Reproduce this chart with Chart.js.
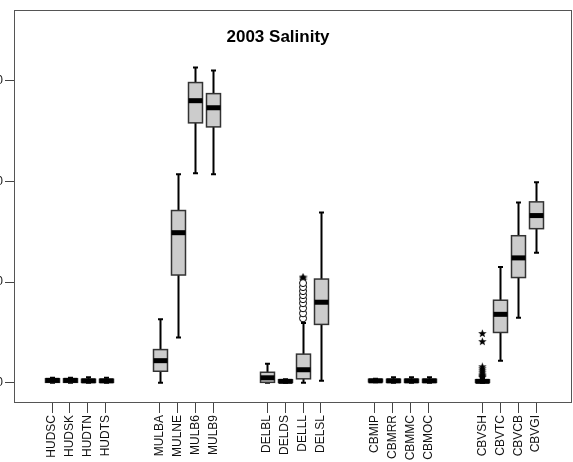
<!DOCTYPE html>
<html lang="en">

<head>
    <meta charset="UTF-8">
    <title>2003 Salinity</title>
    <script src="https://cdn.jsdelivr.net/npm/chart.js"></script>
    <style>
        body,
        html {
            margin: 0;
            padding: 0;
            background-color: #ffffff;
            overflow: hidden;
        }

        /* the y labels are clipped at the left edge, like the original */
        .wrap {
            position: absolute;
            left: -40px;
            top: 0;
            width: 617px;
            height: 462px;
        }
    </style>
</head>

<body>
    <div class="wrap">
        <canvas id="salinityChart" width="617" height="462"></canvas>
    </div>

    <script>
        // sites and their slot on the x axis (gaps between the groups)
        const sites = ['HUDSC', 'HUDSK', 'HUDTN', 'HUDTS',
            'MULBA', 'MULNE', 'MULB6', 'MULB9',
            'DELBL', 'DELDS', 'DELLL', 'DELSL',
            'CBMIP', 'CBMRR', 'CBMMC', 'CBMOC',
            'CBVSH', 'CBVTC', 'CBVCB', 'CBVGI'];
        const slots = [0, 1, 2, 3, 6, 7, 8, 9, 12, 13, 14, 15, 18, 19, 20, 21, 24, 25, 26, 27];

        // box plot values
        const lowWhisker = [0, 0, 0, 0, 0, 4.5, 20.8, 20.7, 0, 0, 0, 0.2, 0.05, 0, 0, 0, 0, 2.2, 6.45, 12.9];
        const q1 = [0.05, 0.05, 0.05, 0.05, 1.15, 10.7, 25.8, 25.4, 0.05, 0.05, 0.4, 5.8, 0.1, 0.05, 0.05, 0.05, 0.05, 5.0, 10.45, 15.3];
        const medians = [0.25, 0.25, 0.2, 0.2, 2.2, 14.9, 28.0, 27.3, 0.5, 0.15, 1.3, 8.0, 0.2, 0.2, 0.2, 0.2, 0.15, 6.8, 12.4, 16.6];
        const q3 = [0.4, 0.4, 0.35, 0.35, 3.3, 17.1, 29.8, 28.7, 1.05, 0.3, 2.85, 10.3, 0.35, 0.35, 0.35, 0.35, 0.3, 8.2, 14.6, 17.96];
        const highWhisker = [0.5, 0.5, 0.55, 0.5, 6.3, 20.7, 31.3, 31.0, 1.9, 0.35, 5.95, 16.9, 0.4, 0.55, 0.55, 0.55, 0.5, 11.5, 17.9, 19.9];

        // outliers
        const delllCircles = [6.4, 6.9, 7.4, 7.9, 8.3, 8.7, 9.1, 9.5, 9.9];
        const delllStars = [10.2, 10.4, 10.5];
        const cbvshStars = [4.9, 4.1, 1.6, 1.4, 1.2, 1.0, 0.8, 0.7, 0.6, 0.55];

        const yTicks = [0, 10, 20, 30];

        // small filled star for the extreme values
        function makeStar() {
            const c = document.createElement('canvas');
            c.width = 9;
            c.height = 9;
            const g = c.getContext('2d');
            g.fillStyle = '#000';
            g.beginPath();
            for (let i = 0; i < 10; i++) {
                const r = i % 2 === 0 ? 4.4 : 1.9;
                const a = -Math.PI / 2 + i * Math.PI / 5;
                g.lineTo(4.5 + r * Math.cos(a), 4.7 + r * Math.sin(a));
            }
            g.closePath();
            g.fill();
            return c;
        }
        const star = makeStar();

        const boxPlugin = {
            id: 'boxes',
            beforeDatasetsDraw(chart) {
                const { ctx, chartArea, scales } = chart;
                const x = scales.x, y = scales.y;
                ctx.save();
                // frame
                ctx.strokeStyle = '#555';
                ctx.lineWidth = 1;
                ctx.strokeRect(chartArea.left + 0.5, chartArea.top + 0.5,
                    chartArea.right - chartArea.left - 1, chartArea.bottom - chartArea.top - 1);

                slots.forEach((s, i) => {
                    const cx = Math.round(x.getPixelForValue(s)) + 0.5;
                    const half = x.getPixelForValue(s + 0.39) - x.getPixelForValue(s);
                    const cap = 2.5;
                    const yLo = y.getPixelForValue(lowWhisker[i]);
                    const yHi = y.getPixelForValue(highWhisker[i]);
                    const yQ1 = y.getPixelForValue(q1[i]);
                    const yQ3 = y.getPixelForValue(q3[i]);
                    const yMed = y.getPixelForValue(medians[i]);

                    // whiskers
                    ctx.strokeStyle = '#000';
                    ctx.lineWidth = 2;
                    ctx.beginPath();
                    ctx.moveTo(cx, yHi);
                    ctx.lineTo(cx, yQ3);
                    ctx.moveTo(cx, yQ1);
                    ctx.lineTo(cx, yLo);
                    ctx.moveTo(cx - cap, yHi);
                    ctx.lineTo(cx + cap, yHi);
                    ctx.moveTo(cx - cap, yLo);
                    ctx.lineTo(cx + cap, yLo);
                    ctx.stroke();

                    // box
                    ctx.fillStyle = '#cccccc';
                    ctx.fillRect(cx - half, yQ3, half * 2, yQ1 - yQ3);
                    ctx.strokeStyle = '#333';
                    ctx.lineWidth = 1.5;
                    ctx.strokeRect(cx - half, yQ3, half * 2, yQ1 - yQ3);

                    // median
                    ctx.fillStyle = '#000';
                    ctx.fillRect(cx - half, yMed - 2.5, half * 2, 5);
                });
                ctx.restore();
            },
            afterDraw(chart) {
                const { ctx, chartArea } = chart;
                ctx.save();
                ctx.fillStyle = '#000';
                ctx.font = 'bold 17px Arial, "Liberation Sans", sans-serif';
                ctx.textAlign = 'center';
                ctx.textBaseline = 'middle';
                ctx.fillText('2003 Salinity', chartArea.left + 264, chartArea.top + 27);
                ctx.restore();
            }
        };

        new Chart(document.getElementById('salinityChart'), {
            type: 'scatter',
            data: {
                datasets: [{
                    label: 'DELLL outliers',
                    data: delllCircles.map(v => ({ x: slots[10], y: v })),
                    pointStyle: 'circle',
                    radius: 3.5,
                    borderColor: '#000',
                    borderWidth: 1,
                    backgroundColor: '#fff'
                }, {
                    label: 'DELLL extremes',
                    data: delllStars.map(v => ({ x: slots[10], y: v })),
                    pointStyle: star
                }, {
                    label: 'CBVSH extremes',
                    data: cbvshStars.map(v => ({ x: slots[16], y: v })),
                    pointStyle: star
                }]
            },
            options: {
                responsive: false,
                animation: false,
                layout: {
                    padding: { top: 10, right: 1, left: 0, bottom: 0 }
                },
                plugins: {
                    legend: { display: false },
                    tooltip: { enabled: false }
                },
                scales: {
                    x: {
                        type: 'linear',
                        min: -2.12,
                        max: 29.0,
                        border: { display: false },
                        grid: {
                            drawOnChartArea: false,
                            drawTicks: true,
                            tickLength: 10,
                            color: '#444',
                            tickWidth: 1
                        },
                        afterBuildTicks: axis => {
                            axis.ticks = slots.map(v => ({ value: v }));
                        },
                        afterFit: scale => {
                            scale.height = 59;
                        },
                        ticks: {
                            autoSkip: false,
                            minRotation: 90,
                            maxRotation: 90,
                            padding: 2,
                            color: '#111',
                            font: { family: 'Arial, "Liberation Sans", sans-serif', size: 12 },
                            callback: value => sites[slots.indexOf(value)]
                        }
                    },
                    y: {
                        min: -2,
                        max: 37,
                        border: { display: false },
                        grid: {
                            drawOnChartArea: false,
                            drawTicks: true,
                            tickLength: 9,
                            color: '#444'
                        },
                        afterBuildTicks: axis => {
                            axis.ticks = yTicks.map(v => ({ value: v }));
                        },
                        afterFit: scale => {
                            scale.width = 54;
                        },
                        ticks: {
                            padding: 2,
                            color: '#111',
                            font: { family: 'Arial, "Liberation Sans", sans-serif', size: 12 }
                        }
                    }
                }
            },
            plugins: [boxPlugin]
        });
    </script>
</body>

</html>
